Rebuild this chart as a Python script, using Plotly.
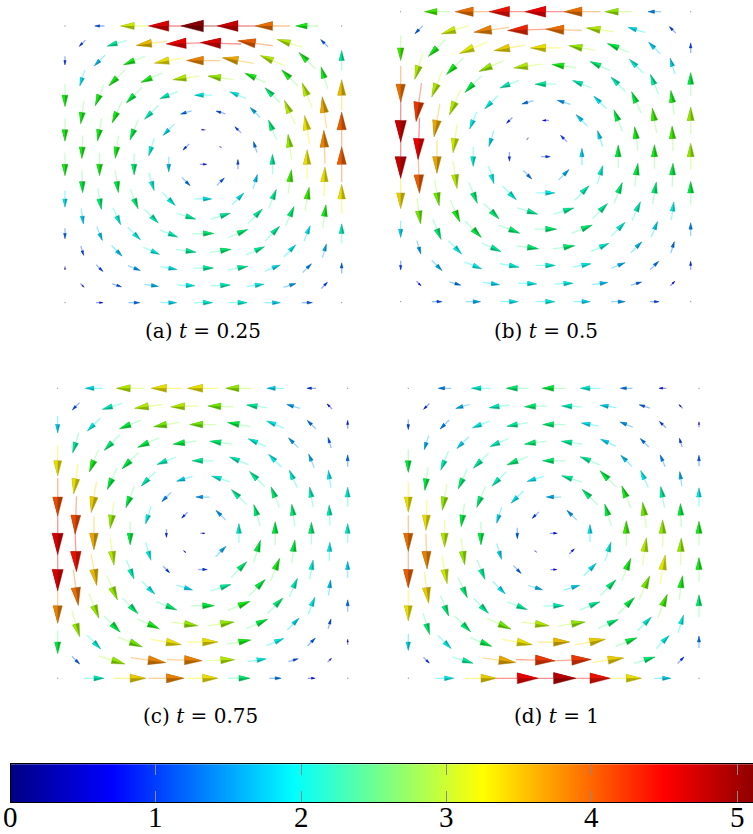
import colorsys
import math
from collections import defaultdict

import plotly.graph_objects as go

W, H = 753, 834

# Sample grid: staggered lattice, 17 rows from y = 1 (top) down to y = 0.
# Even rows carry 9 samples, odd rows carry 8 samples half-way between.
X_EVEN = [0.0, 0.125, 0.25, 0.375, 0.5, 0.625, 0.75, 0.875, 1.0]
X_ODD = [0.0625, 0.1875, 0.3125, 0.4375, 0.5625, 0.6875, 0.8125, 0.9375]
Y_ROWS = [1.0, 0.9375, 0.875, 0.8125, 0.75, 0.6875, 0.625, 0.5625, 0.5,
          0.4375, 0.375, 0.3125, 0.25, 0.1875, 0.125, 0.0625, 0.0]

# Speed |u| at each sample, one list per row (top row first)
SPEED_T025 = [
    [0.1, 1.1, 3.1, 4.6, 5.1, 4.7, 3.9, 2.6, 0.1],
    [1.0, 2.3, 3.5, 4.5, 4.6, 4.0, 3.0, 1.2],
    [1.0, 1.7, 2.6, 3.3, 3.8, 3.6, 3.0, 2.6, 2.3],
    [1.9, 2.6, 2.6, 3.0, 2.9, 2.6, 2.6, 2.6],
    [2.6, 2.6, 2.5, 2.2, 2.0, 2.0, 2.4, 3.0, 3.5],
    [2.6, 2.6, 2.2, 1.3, 1.1, 1.6, 3.0, 3.6],
    [2.6, 2.6, 2.5, 1.8, 0.5, 1.0, 2.4, 3.3, 4.0],
    [2.6, 2.6, 2.1, 1.0, 0.3, 1.3, 2.9, 3.8],
    [2.6, 2.6, 2.4, 1.7, 0.8, 1.1, 2.3, 3.3, 4.0],
    [2.5, 2.5, 2.1, 1.3, 1.2, 1.7, 2.7, 3.3],
    [1.9, 2.4, 2.4, 2.1, 1.9, 1.9, 2.3, 2.7, 3.3],
    [1.8, 2.1, 2.2, 2.3, 2.3, 2.3, 2.4, 2.6],
    [1.2, 1.7, 2.0, 2.2, 2.4, 2.4, 2.3, 1.9, 2.2],
    [1.1, 1.7, 2.0, 2.3, 2.4, 2.3, 1.9, 1.6],
    [0.4, 1.1, 1.5, 1.9, 2.3, 2.3, 1.9, 1.4, 1.2],
    [0.6, 1.1, 1.6, 2.0, 2.2, 2.0, 1.5, 1.0],
    [0.1, 0.8, 1.3, 1.8, 2.1, 2.1, 1.8, 1.2, 0.1],
]

SPEED_T050 = [
    [0.1, 2.7, 3.9, 4.4, 4.5, 3.9, 2.9, 1.4, 0.1],
    [1.2, 3.1, 3.8, 4.3, 3.9, 3.0, 1.9, 1.0],
    [2.7, 2.6, 3.2, 3.4, 3.3, 2.9, 2.5, 1.8, 1.1],
    [3.0, 2.6, 2.9, 3.0, 2.6, 2.4, 2.1, 1.8],
    [3.9, 3.0, 2.5, 2.2, 2.3, 2.2, 2.2, 2.3, 2.5],
    [4.2, 3.0, 2.0, 1.3, 1.5, 1.9, 2.5, 2.6],
    [4.7, 3.6, 2.0, 0.9, 0.7, 1.8, 2.5, 2.7, 2.9],
    [4.5, 3.1, 1.8, 0.3, 1.0, 1.8, 2.6, 2.7],
    [4.7, 3.6, 2.1, 1.0, 1.0, 1.8, 2.5, 2.6, 2.9],
    [4.0, 3.0, 2.0, 1.3, 1.6, 2.1, 2.5, 2.5],
    [3.4, 2.8, 2.4, 2.1, 2.0, 2.2, 2.4, 2.4, 2.5],
    [2.8, 2.6, 2.4, 2.3, 2.3, 2.3, 2.2, 2.0],
    [1.8, 2.4, 2.5, 2.4, 2.4, 2.4, 2.1, 1.8, 1.4],
    [1.5, 2.0, 2.3, 2.4, 2.4, 2.1, 1.7, 1.3],
    [1.0, 1.6, 2.0, 2.1, 2.1, 2.0, 1.6, 1.3, 0.9],
    [0.7, 1.3, 1.8, 2.0, 2.0, 1.7, 1.2, 0.7],
    [0.1, 1.1, 1.6, 1.9, 2.0, 1.8, 1.5, 1.0, 0.1],
]

SPEED_T075 = [
    [0.1, 1.9, 3.0, 3.3, 3.3, 2.9, 1.8, 1.0, 0.1],
    [1.1, 2.2, 3.0, 3.0, 2.8, 2.3, 1.5, 0.8],
    [1.8, 2.0, 2.5, 2.8, 2.8, 2.5, 2.0, 1.3, 0.9],
    [2.3, 2.4, 2.5, 2.5, 2.4, 2.1, 1.5, 1.2],
    [3.3, 2.6, 2.5, 2.2, 2.3, 2.2, 2.0, 1.6, 1.3],
    [3.3, 2.5, 2.2, 1.8, 2.1, 2.3, 2.1, 1.9],
    [4.1, 3.4, 2.5, 1.4, 1.5, 2.3, 2.4, 2.2, 2.1],
    [4.1, 2.9, 2.0, 0.9, 1.5, 2.4, 2.4, 2.2],
    [4.6, 3.6, 2.5, 0.9, 0.5, 2.1, 2.5, 2.4, 2.1],
    [4.4, 3.0, 2.0, 0.4, 1.6, 2.5, 2.5, 2.0],
    [4.6, 3.5, 2.2, 1.0, 1.0, 2.4, 2.6, 2.1, 1.8],
    [3.9, 2.9, 2.0, 1.8, 2.3, 2.5, 2.2, 1.7],
    [3.8, 2.9, 2.4, 2.4, 2.5, 2.6, 2.4, 2.0, 1.3],
    [2.9, 2.5, 2.6, 2.9, 2.9, 2.5, 1.8, 1.1],
    [2.5, 2.1, 2.8, 3.3, 3.3, 2.6, 2.0, 1.2, 0.6],
    [1.2, 2.9, 3.8, 3.8, 3.0, 2.0, 1.1, 0.6],
    [0.1, 2.2, 3.4, 3.8, 3.3, 2.4, 1.3, 0.8, 0.1],
]

SPEED_T100 = [
    [0.1, 1.4, 2.1, 2.4, 2.5, 2.1, 1.3, 0.8, 0.1],
    [0.9, 1.6, 2.2, 2.4, 2.2, 1.8, 1.2, 0.6],
    [1.1, 1.4, 2.0, 2.3, 2.4, 1.9, 1.5, 1.0, 0.6],
    [1.6, 1.8, 2.2, 2.4, 2.3, 1.8, 1.3, 1.0],
    [2.5, 2.2, 2.3, 2.4, 2.4, 2.3, 1.7, 1.4, 1.2],
    [2.5, 2.4, 2.2, 1.9, 2.3, 2.5, 2.0, 1.6],
    [3.3, 2.9, 2.4, 1.9, 1.6, 2.4, 2.6, 2.3, 2.0],
    [3.3, 2.5, 1.8, 1.0, 1.5, 2.5, 2.8, 2.5],
    [3.9, 3.0, 2.5, 1.2, 0.8, 1.9, 2.7, 2.9, 2.6],
    [3.8, 2.9, 1.8, 0.3, 0.8, 2.1, 3.0, 2.9],
    [4.0, 3.1, 2.3, 1.2, 0.7, 1.9, 2.6, 3.2, 2.6],
    [3.4, 2.4, 1.9, 1.6, 1.8, 2.4, 2.8, 2.6],
    [3.3, 2.4, 2.3, 2.3, 2.2, 2.3, 2.5, 2.7, 2.4],
    [2.4, 2.4, 2.8, 3.0, 2.9, 2.4, 2.1, 2.0],
    [1.8, 2.0, 2.5, 3.3, 3.5, 3.4, 2.5, 2.0, 1.3],
    [0.9, 2.3, 3.6, 4.2, 4.2, 3.4, 2.4, 1.0],
    [0.1, 2.0, 3.4, 4.5, 4.8, 4.4, 3.3, 1.8, 0.1],
]

# Flow direction at each sample, degrees counter-clockwise from +x
FLOW_ANGLE_DEG = [
    [180, 180, 180, 180, 180, 180, 180, 180, 180],
    [225, 197, 188, 182, 178, 172, 163, 135],
    [270, 225, 202, 190, 180, 170, 158, 135, 90],
    [253, 225, 204, 188, 172, 156, 135, 107],
    [270, 248, 225, 202, 180, 158, 135, 112, 90],
    [262, 246, 225, 197, 163, 135, 114, 98],
    [270, 260, 248, 225, 180, 135, 112, 100, 90],
    [268, 262, 253, 225, 135, 107, 98, 92],
    [270, 270, 270, 270, 0, 90, 90, 90, 90],
    [272, 278, 287, 315, 45, 73, 82, 88],
    [270, 280, 292, 315, 0, 45, 68, 80, 90],
    [278, 294, 315, 343, 17, 45, 66, 82],
    [270, 292, 315, 338, 0, 22, 45, 68, 90],
    [287, 315, 336, 352, 8, 24, 45, 73],
    [270, 315, 338, 350, 0, 10, 22, 45, 90],
    [315, 343, 352, 358, 2, 8, 17, 45],
    [0, 0, 0, 0, 0, 0, 0, 0, 0],
]

PANEL_TITLES = ["(a) <i>t</i> = 0.25", "(b) <i>t</i> = 0.5",
                "(c) <i>t</i> = 0.75", "(d) <i>t</i> = 1"]
PANEL_SPEEDS = [SPEED_T025, SPEED_T050, SPEED_T075, SPEED_T100]
TICK_VALUES = [0, 1, 2, 3, 4, 5]

# jet-like colour map over [0, CMAX]
CMAX = 5.2
JET_STOPS = [(0.0, (0, 0, 131)), (0.7, (0, 0, 255)), (1.95, (0, 255, 255)),
             (3.25, (255, 255, 0)), (4.5, (255, 0, 0)), (5.2, (128, 0, 0))]

# pixel frame of each sample grid: left, right, top, bottom
FRAMES = [(65.0, 341.7, 26.0, 302.7), (400.7, 690.7, 11.7, 301.7),
          (57.7, 347.7, 388.3, 678.3), (408.3, 699.0, 388.3, 678.3)]
CAPTION_XY = [(203, 331), (546, 331), (200, 716), (556, 716)]

PAD = 0.03             # axis padding around the unit square
CONE_PER_UNIT = 0.016  # cone length per unit speed (data units)
CONE_WIDTH = 0.52      # base width / cone length
SHAFT_RATIO = 1.0      # shaft length / cone length
LIT, DARK = 0.9, 0.68  # brightness of the lit / shaded half of each cone


def jet_rgb(v):
    v = min(max(v, 0.0), CMAX)
    for (v0, c0), (v1, c1) in zip(JET_STOPS[:-1], JET_STOPS[1:]):
        if v <= v1:
            f = (v - v0) / (v1 - v0)
            return tuple(c0[m] + f * (c1[m] - c0[m]) for m in range(3))
    return JET_STOPS[-1][1]


def shaded(c, level):
    # rendered cone surface: deeper saturation, dimmed by the light level
    h, s, v = colorsys.rgb_to_hsv(*(x / 255.0 for x in c))
    s = min(1.0, s * 1.5 + 0.15)
    r, g, b = colorsys.hsv_to_rgb(h, s, v * level)
    return "rgb(%d,%d,%d)" % (round(r * 255), round(g * 255), round(b * 255))


fig = go.Figure()
shaft_traces, dark_traces, lit_traces = [], [], []

for k, speed in enumerate(PANEL_SPEEDS):
    xa = "x" if k == 0 else "x%d" % (k + 1)
    ya = "y" if k == 0 else "y%d" % (k + 1)
    shafts = defaultdict(lambda: ([], []))
    darks = defaultdict(lambda: ([], []))
    lits = defaultdict(lambda: ([], []))
    for j, (row_s, row_a) in enumerate(zip(speed, FLOW_ANGLE_DEG)):
        xs = X_EVEN if j % 2 == 0 else X_ODD
        y = Y_ROWS[j]
        for x, s, a in zip(xs, row_s, row_a):
            th = math.radians(a)
            dx, dy = math.cos(th), math.sin(th)
            nx, ny = -dy, dx
            lc = CONE_PER_UNIT * s
            hw = 0.5 * CONE_WIDTH * lc
            tip = (x + lc * dx, y + lc * dy)
            b1 = (x + hw * nx, y + hw * ny)
            b2 = (x - hw * nx, y - hw * ny)
            tail = (x - SHAFT_RATIO * lc * dx, y - SHAFT_RATIO * lc * dy)
            lit_side = b1 if (-nx + ny) > 0 else b2
            key = round(s, 2)
            sx, sy = shafts[key]
            sx += [x, tail[0], None]
            sy += [y, tail[1], None]
            px, py = darks[key]
            px += [tip[0], b1[0], b2[0], tip[0], None]
            py += [tip[1], b1[1], b2[1], tip[1], None]
            qx, qy = lits[key]
            qx += [tip[0], x, lit_side[0], tip[0], None]
            qy += [tip[1], y, lit_side[1], tip[1], None]
    for key, (sx, sy) in shafts.items():
        c = jet_rgb(key)
        shaft_traces.append(go.Scatter(
            x=sx, y=sy, mode="lines", xaxis=xa, yaxis=ya, hoverinfo="skip",
            line=dict(color="rgba(%d,%d,%d,0.42)" % tuple(int(v) for v in c), width=1.3)))
    for key, (px, py) in darks.items():
        c = jet_rgb(key)
        dark_traces.append(go.Scatter(
            x=px, y=py, mode="lines", fill="toself", xaxis=xa, yaxis=ya,
            hoverinfo="skip", fillcolor=shaded(c, DARK),
            line=dict(color=shaded(c, DARK), width=0.4)))
    for key, (qx, qy) in lits.items():
        c = jet_rgb(key)
        lit_traces.append(go.Scatter(
            x=qx, y=qy, mode="lines", fill="toself", xaxis=xa, yaxis=ya,
            hoverinfo="skip", fillcolor=shaded(c, LIT), line=dict(width=0)))

for t in shaft_traces + dark_traces + lit_traces:
    fig.add_trace(t)

# colour bar drawn as a one-row heatmap on its own axis
bar_x = [i * 0.01 for i in range(0, int(CMAX * 100) + 1)]
fig.add_trace(go.Heatmap(
    x=bar_x, y=[0, 1], z=[bar_x, bar_x], xaxis="x5", yaxis="y5",
    zmin=0, zmax=CMAX, showscale=False, hoverinfo="skip",
    colorscale=[[v / CMAX, "rgb(%d,%d,%d)" % c] for v, c in JET_STOPS]))

layout = dict(
    width=W, height=H, margin=dict(l=0, r=0, t=0, b=0, autoexpand=False),
    paper_bgcolor="white", plot_bgcolor="white", showlegend=False,
)

for k, (left, right, top, bottom) in enumerate(FRAMES):
    sx, sy = right - left, bottom - top
    xn = "xaxis" if k == 0 else "xaxis%d" % (k + 1)
    yn = "yaxis" if k == 0 else "yaxis%d" % (k + 1)
    layout[xn] = dict(domain=[(left - PAD * sx) / W, (right + PAD * sx) / W],
                      range=[-PAD, 1 + PAD], visible=False, automargin=False,
                      anchor="y" if k == 0 else "y%d" % (k + 1))
    layout[yn] = dict(domain=[(H - bottom - PAD * sy) / H, (H - top + PAD * sy) / H],
                      range=[-PAD, 1 + PAD], visible=False, automargin=False,
                      anchor="x" if k == 0 else "x%d" % (k + 1))

BAR_LEFT, BAR_TOP, BAR_BOTTOM, PX_PER_UNIT = 10.5, 764.3, 802.3, 145.3
TICK_LABEL_Y = 817.0
layout["xaxis5"] = dict(
    domain=[BAR_LEFT / W, 1.0], range=[0, (W - BAR_LEFT) / PX_PER_UNIT],
    anchor="y5", tickvals=TICK_VALUES, showticklabels=False,
    ticks="inside", ticklen=11, tickwidth=1, tickcolor="#8a8a8a",
    showline=True, linecolor="black", linewidth=1.2, mirror="ticks",
    showgrid=False, zeroline=False, automargin=False)
layout["yaxis5"] = dict(
    domain=[(H - BAR_BOTTOM) / H, (H - BAR_TOP) / H], range=[0, 1], anchor="x5",
    showticklabels=False, ticks="", showline=True, linecolor="black",
    linewidth=1.2, mirror=True, showgrid=False, zeroline=False, automargin=False)

captions = [
    dict(text=title, x=cx / W, y=1 - cy / H, xref="paper", yref="paper",
         xanchor="center", yanchor="middle", showarrow=False,
         font=dict(family="DejaVu Serif", size=20, color="black"))
    for title, (cx, cy) in zip(PANEL_TITLES, CAPTION_XY)
]
tick_labels = [
    dict(text=str(v), x=v, y=1 - TICK_LABEL_Y / H, xref="x5", yref="paper",
         xanchor="center", yanchor="middle", showarrow=False,
         font=dict(family="Liberation Serif", size=29, color="black"))
    for v in TICK_VALUES
]
layout["annotations"] = captions + tick_labels

fig.update_layout(**layout)
fig.write_html("out.html")
